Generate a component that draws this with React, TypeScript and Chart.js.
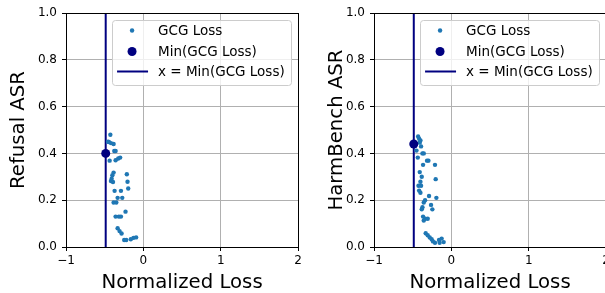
import React, { useEffect, useRef } from 'react';
import { Chart, registerables } from 'chart.js';

Chart.register(...registerables);

const FONT = '"DejaVu Sans", sans-serif';

// Refusal ASR panel
const refusalLoss = [-0.427, -0.445, -0.457, -0.419, -0.385, -0.376, -0.359, -0.436, -0.359, -0.325, -0.300, -0.385, -0.401, -0.410, -0.419, -0.393, -0.214, -0.205, -0.196, -0.372, -0.290, -0.333, -0.273, -0.385, -0.350, -0.231, -0.359, -0.317, -0.290, -0.333, -0.308, -0.282, -0.248, -0.222, -0.163, -0.128, -0.094];
const refusalASR = [0.48, 0.449, 0.45, 0.444, 0.44, 0.41, 0.41, 0.369, 0.371, 0.378, 0.382, 0.318, 0.307, 0.292, 0.282, 0.278, 0.311, 0.279, 0.25, 0.24, 0.24, 0.21, 0.21, 0.19, 0.19, 0.151, 0.13, 0.13, 0.13, 0.08, 0.068, 0.058, 0.03, 0.03, 0.033, 0.039, 0.041];
const refusalMinLoss = -0.487;
const refusalMinASR = 0.40;

// HarmBench ASR panel
const harmLoss = [-0.430, -0.417, -0.400, -0.409, -0.392, -0.451, -0.374, -0.357, -0.434, -0.315, -0.297, -0.366, -0.212, -0.409, -0.203, -0.383, -0.400, -0.425, -0.392, -0.417, -0.400, -0.289, -0.194, -0.340, -0.357, -0.263, -0.374, -0.383, -0.246, -0.366, -0.340, -0.306, -0.357, -0.332, -0.306, -0.280, -0.255, -0.238, -0.212, -0.160, -0.126, -0.100, -0.152];
const harmASR = [0.472, 0.463, 0.455, 0.446, 0.43, 0.412, 0.40, 0.40, 0.382, 0.369, 0.369, 0.351, 0.351, 0.32, 0.29, 0.30, 0.279, 0.262, 0.262, 0.241, 0.232, 0.218, 0.21, 0.20, 0.19, 0.18, 0.17, 0.161, 0.161, 0.13, 0.121, 0.121, 0.113, 0.059, 0.05, 0.041, 0.033, 0.024, 0.018, 0.03, 0.036, 0.021, 0.018];
const harmMinLoss = -0.486;
const harmMinASR = 0.44;

const xTicks = [-1, 0, 1, 2];
const yTicks = [0.0, 0.2, 0.4, 0.6, 0.8, 1.0];
const xRange = [-1, 2];
const yRange = [0, 1];

const legendLabels = ['GCG Loss', 'Min(GCG Loss)', 'x = Min(GCG Loss)'];
const xTitle = 'Normalized Loss';

const BLUE = '#1f77b4';
const NAVY = '#000080';

const framePlugin = {
  id: 'frame',
  afterDatasetsDraw(chart: any) {
    const { ctx, chartArea } = chart;
    ctx.save();
    ctx.strokeStyle = '#000';
    ctx.lineWidth = 1;
    ctx.strokeRect(Math.round(chartArea.left) + 0.5, Math.round(chartArea.top) + 0.5,
      Math.round(chartArea.right - chartArea.left), Math.round(chartArea.bottom - chartArea.top));
    ctx.restore();
  },
};

const boxLegendPlugin = {
  id: 'boxLegend',
  afterDraw(chart: any) {
    const { ctx, chartArea } = chart;
    ctx.save();
    ctx.font = `13.5px ${FONT}`;
    const maxW = Math.max(...legendLabels.map((t) => ctx.measureText(t).width));
    const w = 46 + maxW + 6.5;
    const h = 65;
    const x0 = chartArea.right - 7 - w;
    const y0 = chartArea.top + 6.5;
    ctx.beginPath();
    (ctx as any).roundRect(Math.round(x0) + 0.5, Math.round(y0) + 0.5, Math.round(w), h, 3);
    ctx.fillStyle = 'rgba(255,255,255,0.8)';
    ctx.fill();
    ctx.strokeStyle = '#cccccc';
    ctx.lineWidth = 1;
    ctx.stroke();
    const rows = [y0 + 11, y0 + 32, y0 + 52];
    // markers
    ctx.fillStyle = BLUE;
    ctx.beginPath();
    ctx.arc(x0 + 20, rows[0], 2.2, 0, Math.PI * 2);
    ctx.fill();
    ctx.fillStyle = NAVY;
    ctx.beginPath();
    ctx.arc(x0 + 20, rows[1], 4.5, 0, Math.PI * 2);
    ctx.fill();
    ctx.strokeStyle = NAVY;
    ctx.lineWidth = 2;
    ctx.beginPath();
    ctx.moveTo(x0 + 5, rows[2]);
    ctx.lineTo(x0 + 36, rows[2]);
    ctx.stroke();
    ctx.fillStyle = '#000';
    ctx.textBaseline = 'alphabetic';
    ctx.textAlign = 'left';
    legendLabels.forEach((t, i) => {
      ctx.fillText(t, x0 + 46, rows[i] + 4.9);
    });
    ctx.restore();
  },
};

function makeConfig(loss: number[], asr: number[], minLoss: number, minASR: number, yTitle: string, yAxisWidth: number, titlePad: number): any {
  const pts = loss.map((x, i) => ({ x, y: asr[i] }));
  return {
    type: 'scatter',
    data: {
      datasets: [
        {
          label: legendLabels[2],
          type: 'line',
          data: [{ x: minLoss, y: yRange[0] }, { x: minLoss, y: yRange[1] }],
          borderColor: NAVY,
          borderWidth: 2,
          pointRadius: 0,
          showLine: true,
          fill: false,
          order: 3,
        },
        {
          label: legendLabels[0],
          data: pts,
          backgroundColor: BLUE,
          borderWidth: 0,
          pointRadius: 2.2,
          order: 2,
        },
        {
          label: legendLabels[1],
          data: [{ x: minLoss, y: minASR }],
          backgroundColor: NAVY,
          borderWidth: 0,
          pointRadius: 4.5,
          order: 1,
        },
      ],
    },
    options: {
      animation: false,
      responsive: false,
      devicePixelRatio: 1,
      layout: { padding: { top: 13, right: 5, left: 0, bottom: 0 } },
      plugins: { legend: { display: false }, tooltip: { enabled: false } },
      scales: {
        x: {
          type: 'linear',
          min: xRange[0],
          max: xRange[1],
          afterBuildTicks: (s: any) => { s.ticks = xTicks.map((v) => ({ value: v })); },
          afterFit: (s: any) => { s.height = 46; },
          border: { display: false },
          grid: { color: '#b0b0b0', lineWidth: 1, tickColor: '#000', tickLength: 4, drawTicks: true },
          ticks: {
            color: '#000',
            font: { family: FONT, size: 12 },
            padding: 3,
            maxRotation: 0,
            callback: (v: number) => (v < 0 ? '\u2212' + Math.abs(v) : String(v)),
          },
          title: { display: true, text: xTitle, color: '#000', font: { family: FONT, size: 19.7, lineHeight: 1.0 }, padding: { top: 0, bottom: 0 } },
        },
        y: {
          type: 'linear',
          min: yRange[0],
          max: yRange[1],
          afterBuildTicks: (s: any) => { s.ticks = yTicks.map((v) => ({ value: v })); },
          afterFit: (s: any) => { s.width = yAxisWidth; },
          border: { display: false },
          grid: { color: '#b0b0b0', lineWidth: 1, tickColor: '#000', tickLength: 4, drawTicks: true },
          ticks: {
            color: '#000',
            font: { family: FONT, size: 12 },
            padding: 5,
            callback: (v: number) => v.toFixed(1),
          },
          title: { display: true, text: yTitle, color: '#000', font: { family: FONT, size: 19.7, lineHeight: 1.0 }, padding: { top: titlePad, bottom: 0 } },
        },
      },
    },
    plugins: [framePlugin, boxLegendPlugin],
  };
}

export default function App() {
  const leftRef = useRef<HTMLCanvasElement>(null);
  const rightRef = useRef<HTMLCanvasElement>(null);

  useEffect(() => {
    const c1 = new Chart(leftRef.current as HTMLCanvasElement,
      makeConfig(refusalLoss, refusalASR, refusalMinLoss, refusalMinASR, 'Refusal ASR', 66, 9));
    const c2 = new Chart(rightRef.current as HTMLCanvasElement,
      makeConfig(harmLoss, harmASR, harmMinLoss, harmMinASR, 'HarmBench ASR', 74, 27));
    return () => {
      c1.destroy();
      c2.destroy();
    };
  }, []);

  return (
    <div style={{ position: 'fixed', left: 0, top: 0, width: 605, height: 293, overflow: 'hidden', background: '#fff' }}>
      <canvas ref={leftRef} width={305} height={293} style={{ position: 'absolute', left: 0, top: 0, width: 305, height: 293 }} />
      <canvas ref={rightRef} width={313} height={293} style={{ position: 'absolute', left: 300, top: 0, width: 313, height: 293 }} />
    </div>
  );
}
